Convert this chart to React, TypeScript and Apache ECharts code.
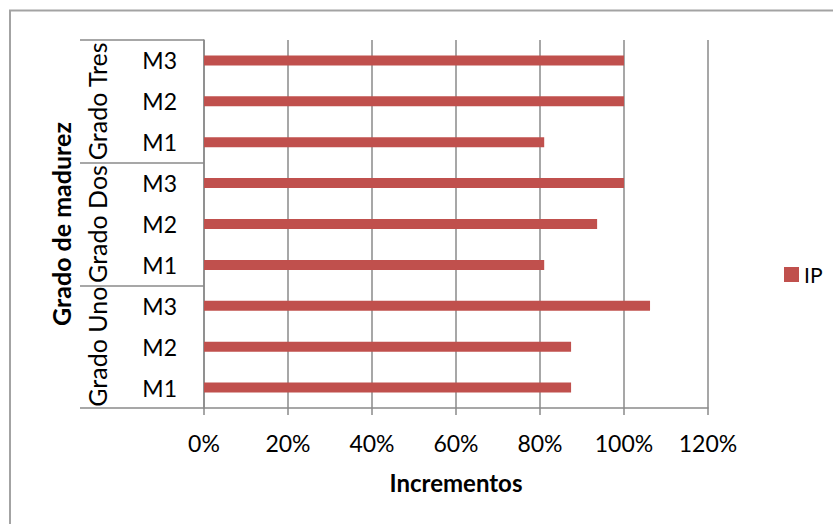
import React, { useEffect, useRef } from "react";
import * as echarts from "echarts";

const groups = ["Grado Uno", "Grado Dos", "Grado Tres"];
const subCats = ["M1", "M2", "M3"];
// bottom to top: Uno M1..M3, Dos M1..M3, Tres M1..M3 (percent)
const ipValues = [87.4, 87.4, 106.2, 81, 93.6, 100, 81, 100, 100];
const xTicks = [0, 20, 40, 60, 80, 100, 120];
const seriesName = "IP";

const FONT = "Lato, 'Open Sans', sans-serif";
const GRAY = "#8a8a8a";

export default function App() {
  const ref = useRef<HTMLDivElement>(null);
  useEffect(() => {
    if (!ref.current) return;
    const chart = echarts.init(ref.current, null, { renderer: "svg" });
    const catKeys: string[] = [];
    groups.forEach((g) => subCats.forEach((s) => catKeys.push(g + "|" + s)));
    chart.setOption({
      animation: false,
      backgroundColor: "#ffffff",
      textStyle: { fontFamily: FONT },
      graphic: [
        {
          type: "rect",
          shape: { x: 10, y: 10.5, width: 900, height: 600 },
          style: { fill: null, stroke: "#a3a3a3", lineWidth: 2 },
          silent: true,
        },
      ],
      grid: { left: 204, right: 125, top: 40, bottom: 116 },
      legend: {
        data: [seriesName],
        left: 779,
        top: 259,
        itemWidth: 15,
        itemHeight: 15,
        itemGap: 6,
        icon: "rect",
        textStyle: { fontFamily: FONT, fontSize: 21, color: "#000" },
      },
      xAxis: {
        type: "value",
        min: xTicks[0],
        max: xTicks[xTicks.length - 1],
        interval: 20,
        name: "Incrementos",
        nameLocation: "middle",
        nameGap: 62,
        nameTextStyle: { fontFamily: FONT, fontSize: 24, fontWeight: "bold", color: "#000" },
        axisLine: { show: true, lineStyle: { color: GRAY, width: 1.5 } },
        axisTick: { show: true, length: 7, lineStyle: { color: GRAY, width: 1.5 } },
        axisLabel: {
          formatter: "{value}%",
          margin: 23,
          fontFamily: FONT,
          fontSize: 23,
          color: "#000",
        },
        splitLine: { show: true, lineStyle: { color: GRAY, width: 1.5 } },
      },
      yAxis: [
        {
          type: "category",
          data: catKeys,
          name: "Grado de madurez",
          nameLocation: "middle",
          nameRotate: 90,
          nameGap: 131,
          nameTextStyle: { fontFamily: FONT, fontSize: 25, fontWeight: "bold", color: "#000" },
          axisLine: { show: true, lineStyle: { color: GRAY, width: 1.5 } },
          axisTick: { show: false },
          axisLabel: {
            formatter: (v: string) => v.split("|")[1],
            margin: 27,
            fontFamily: FONT,
            fontSize: 23,
            color: "#000",
            interval: 0,
          },
          splitLine: { show: false },
        },
        {
          type: "category",
          data: groups,
          position: "left",
          axisLine: { show: false },
          axisTick: {
            show: true,
            length: 124,
            interval: 0,
            lineStyle: { color: GRAY, width: 1.5 },
          },
          axisLabel: {
            rotate: 90,
            margin: 95,
            fontFamily: FONT,
            fontSize: 25,
            color: "#000",
            interval: 0,
          },
          splitLine: { show: false },
        },
      ],
      series: [
        {
          name: seriesName,
          type: "bar",
          yAxisIndex: 0,
          data: ipValues,
          barWidth: 10,
          itemStyle: { color: "#C0504D" },
        },
      ],
    });
    return () => chart.dispose();
  }, []);
  return (
    <div
      ref={ref}
      style={{ position: "fixed", left: 0, top: 0, width: 833, height: 524 }}
    />
  );
}
